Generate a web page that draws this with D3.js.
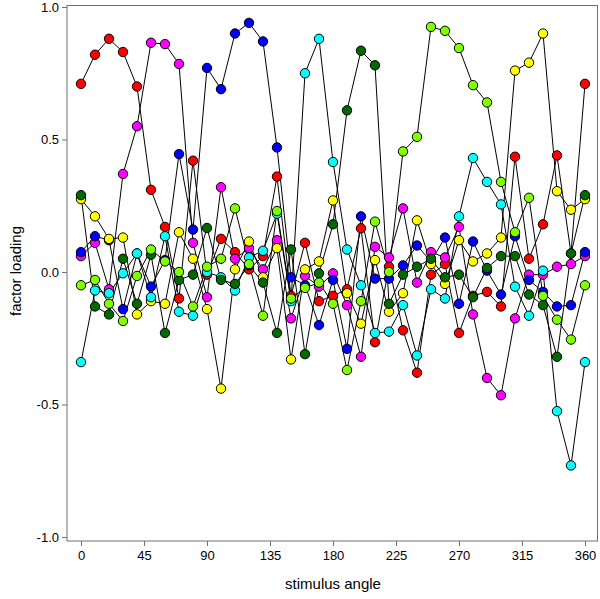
<!DOCTYPE html>
<html><head><meta charset="utf-8">
<script src="https://cdn.jsdelivr.net/npm/d3@7"></script>
<style>body{margin:0;background:#fff}svg{display:block}text{font-family:"Liberation Sans",Arial,sans-serif}</style>
</head><body><svg id="c" width="600" height="599"></svg>
<script>
const angles = d3.range(0, 361, 10);
const xTicks = [0,45,90,135,180,225,270,315,360];
const yTicks = [-1.0,-0.5,0.0,0.5,1.0];
const yTickLabels = ["-1.0","-0.5","0.0","0.5","1.0"];
const seriesNames = ["red","magenta","blue","yellow","cyan","darkgreen","lime"];
const seriesColors = ["#ff0000","#ff00ff","#0000ff","#ffff00","#00ffff","#006a00","#80ff00"];
const red = [0.71,0.82,0.88,0.83,0.70,0.31,0.17,-0.10,0.42,-0.01,0.125,0.075,0.01,0.06,0.36,-0.09,0.11,-0.11,-0.09,-0.065,0.165,-0.265,0.02,-0.22,-0.38,-0.01,0.03,-0.23,-0.09,-0.075,-0.13,0.435,0.05,0.18,0.44,0.07,0.71];
const magenta = [0.06,0.11,-0.065,0.37,0.55,0.865,0.86,0.785,0.11,-0.095,0.32,0.05,0.09,0.01,0.12,-0.175,-0.015,-0.055,-0.005,-0.125,-0.32,0.095,0.055,0.24,-0.04,0.075,0.055,0.17,-0.16,-0.40,-0.465,-0.175,-0.01,-0.01,0.02,0.03,0.06];
const blue = [0.075,0.135,0.12,-0.14,0.07,-0.055,0.045,0.445,0.16,0.77,0.69,0.90,0.94,0.87,0.47,-0.02,-0.05,-0.20,-0.03,-0.29,0.21,-0.025,-0.025,0.025,0.10,0.04,0.13,-0.12,0.115,0.005,-0.085,0.135,-0.03,-0.075,-0.13,-0.125,0.075];
const yellow = [0.275,0.21,0.125,0.13,-0.16,-0.11,-0.12,0.15,0.05,-0.14,-0.44,0.01,0.115,-0.02,0.09,-0.33,0.01,0.04,0.27,-0.08,-0.195,0.045,-0.15,-0.08,0.195,0.03,-0.045,0.12,0.04,0.07,0.13,0.76,0.79,0.90,0.305,0.235,0.275];
const cyan = [-0.34,-0.07,-0.08,-0.005,0.07,-0.095,0.135,-0.15,-0.165,0.0,-0.02,-0.07,0.055,0.08,0.22,-0.11,0.75,0.88,0.415,0.085,-0.05,-0.23,-0.225,-0.125,-0.315,-0.065,-0.10,0.21,0.43,0.34,0.255,-0.055,-0.165,0.005,-0.525,-0.73,-0.34];
const darkgreen = [0.29,-0.13,-0.16,0.05,-0.12,0.065,-0.23,-0.03,-0.01,0.166,-0.03,-0.045,0.025,-0.04,-0.23,0.085,-0.31,-0.005,0.18,0.61,0.835,0.78,-0.12,-0.01,0.02,0.05,-0.02,-0.01,-0.095,0.015,0.06,0.06,-0.085,-0.125,-0.32,0.07,0.29];
const lime = [-0.05,-0.03,-0.12,-0.185,-0.015,0.085,0.04,0.0,-0.13,0.02,0.05,0.24,0.03,-0.165,0.23,-0.10,-0.06,-0.04,-0.12,-0.37,-0.11,0.19,0.0,0.455,0.51,0.925,0.91,0.845,0.705,0.64,0.34,0.15,0.28,-0.09,-0.18,-0.255,-0.05];
const seriesValues = [red,magenta,blue,yellow,cyan,darkgreen,lime];

const svg = d3.select("#c");
const x = d3.scaleLinear().domain([-10,370]).range([67,599]);
const y = d3.scaleLinear().domain([-1,1]).range([537,7]);
const axisColor = "#707070";

svg.append("line").attr("x1",67).attr("x2",598).attr("y1",5.5).attr("y2",5.5).attr("stroke",axisColor);
svg.append("line").attr("x1",597.5).attr("x2",597.5).attr("y1",5).attr("y2",541).attr("stroke",axisColor);

const ax = svg.append("g").attr("transform","translate(0,541)")
  .call(d3.axisBottom(x).tickValues(xTicks).tickSize(5).tickSizeOuter(0).tickFormat(d3.format("d")));
const ay = svg.append("g").attr("transform","translate(67,0)")
  .call(d3.axisLeft(y).tickValues(yTicks).tickSize(5).tickSizeOuter(0).tickFormat((d,i)=>yTickLabels[i]));
ax.select(".domain").attr("d","M67,0H598");
ay.select(".domain").attr("d","M0,5V541");
[ax,ay].forEach(g=>{
  g.selectAll(".domain").attr("stroke",axisColor);
  g.selectAll(".tick line").attr("stroke",axisColor);
  g.selectAll(".tick text").attr("font-size",13).attr("fill","#000").attr("font-family","Liberation Sans, Arial, sans-serif");
});
ax.selectAll(".tick text").attr("dy","0.85em");

svg.append("text").attr("x",333).attr("y",589).attr("text-anchor","middle").attr("font-size",15).text("stimulus angle");
svg.append("text").attr("transform","translate(21,271) rotate(-90)").attr("text-anchor","middle").attr("font-size",15).text("factor loading");

const line = d3.line().x((d,i)=>x(angles[i])).y(d=>y(d));
seriesValues.forEach(vals=>{
  svg.append("path").attr("d",line(vals)).attr("fill","none").attr("stroke","#000").attr("stroke-width",1);
});
seriesValues.forEach((vals,s)=>{
  svg.append("g").selectAll("circle").data(vals).join("circle")
    .attr("cx",(d,i)=>x(angles[i])).attr("cy",d=>y(d)).attr("r",4.7)
    .attr("fill",seriesColors[s]).attr("stroke","#000").attr("stroke-width",1);
});
</script></body></html>
